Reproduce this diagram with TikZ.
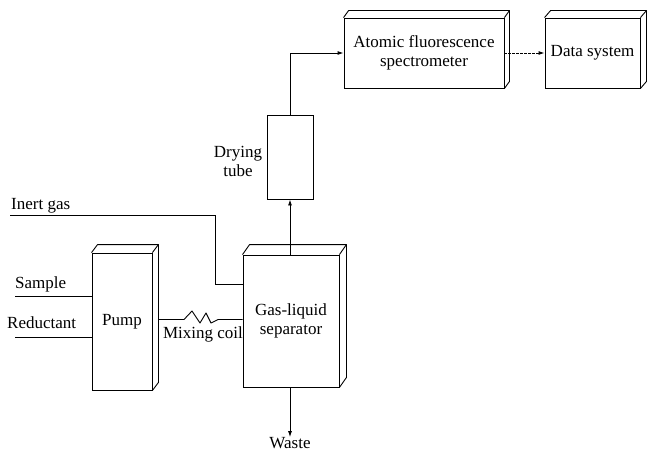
\documentclass[tikz,border=0pt]{standalone}
\usepackage{fontspec}
\setmainfont{Liberation Serif}
\usetikzlibrary{arrows.meta,calc}
\tikzset{
  box/.style={draw, line width=0.9pt, rectangle, inner sep=0pt, align=center,
    font=\fontsize{17}{19}\selectfont},
  lbl/.style={inner sep=0pt, align=center, font=\fontsize{17}{19}\selectfont},
  pipe/.style={line width=0.9pt},
  arr/.style={line width=0.9pt, -{Latex[length=6pt,width=4pt]}},
}
% 3D edges of a box node: name, dx, dy
\newcommand{\boxdepth}[3]{%
  \draw[line width=0.9pt, line join=round] (#1.north west) -- ++(#2,-#3) -- ($(#1.north east)+(#2,-#3)$) -- ($(#1.south east)+(#2,-#3)$) -- (#1.south east);
  \draw[line width=0.9pt] (#1.north east) -- ++(#2,-#3);
}
\begin{document}
\begin{tikzpicture}[x=1pt,y=-1pt]
\useasboundingbox (0,0) rectangle (647,452);

% boxes
\node[box, minimum width=160pt, minimum height=70pt] (afs) at (424,53) {Atomic fluorescence\\spectrometer};
\node[box, minimum width=95pt, minimum height=70pt] (ds) at (592.5,53) {Data system};
\node[box, minimum width=46pt, minimum height=84pt] (dry) at (290,157) {};
\node[box, minimum width=96pt, minimum height=132pt] (gls) at (291,321) {Gas-liquid\\separator};
\node[box, minimum width=60pt, minimum height=137pt] (pump) at (122,321.5) {Pump};
\boxdepth{afs}{5}{7}
\boxdepth{ds}{6}{7}
\boxdepth{gls}{7}{10}
\boxdepth{pump}{6}{8}

% labels
\node[lbl] (drylbl) at (238,161) {Drying\\tube};
\node[lbl, anchor=west] (iglbl) at (11,206) {Inert gas};
\node[lbl, anchor=west] (slbl) at (15,284) {Sample};
\node[lbl, anchor=west] (rlbl) at (7,323) {Reductant};
\node[lbl] (mclbl) at (203,334) {Mixing coil};
\node[lbl] (waste) at (290,443) {Waste};

% connectors
\draw[arr] (dry.north) |- (afs.west);
\draw[arr, dashed, dash pattern=on 3pt off 1pt] (afs.east) -- (ds.west);
\draw[arr] (gls.north -| dry.south) -- (dry.south);
\draw[arr] (gls.south -| waste.north) -- (waste.north);

\coordinate (ig0) at (10,215);
\coordinate (igc) at (215,215);
\draw[pipe] (ig0) -- (igc) |- ([yshift=37pt]gls.west);

\coordinate (s0) at (15,296);
\draw[pipe] (s0) -- (s0 -| pump.west);
\coordinate (r0) at (15,337);
\draw[pipe] (r0) -- (r0 -| pump.west);

\coordinate (mc0) at (158,319.5);
\draw[pipe, line join=round] (mc0) -- (184,319.5) -- (192,311) -- (200,323) -- (206,313) -- (211,323) -- (218,319.5) -- (gls.west |- 0,319.5);
\end{tikzpicture}
\end{document}
